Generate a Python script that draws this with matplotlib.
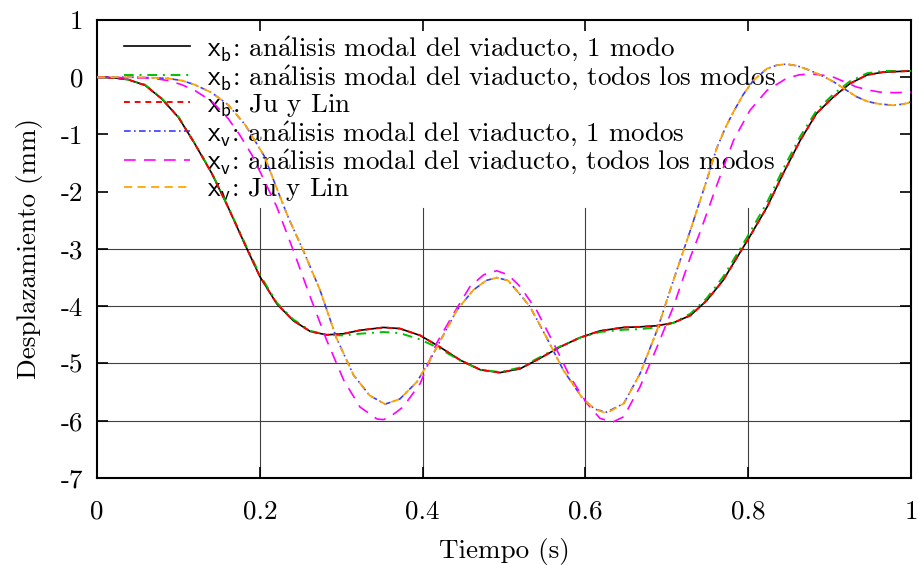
import matplotlib
matplotlib.use("Agg")
import matplotlib.pyplot as plt

plt.rcParams['font.family'] = ['cmr10', 'DejaVu Serif']
plt.rcParams['mathtext.fontset'] = 'cm'
plt.rcParams['axes.unicode_minus'] = False
plt.rcParams['font.size'] = 19.5

# Data (tiempo in s, desplazamiento in mm)
t_b1 = [0.00, 0.02, 0.038, 0.059, 0.079, 0.100, 0.120, 0.141, 0.161, 0.182,
        0.200, 0.221, 0.241, 0.262, 0.282, 0.303, 0.323, 0.352, 0.372, 0.397,
        0.421, 0.446, 0.471, 0.495, 0.520, 0.544, 0.569, 0.593, 0.618, 0.647,
        0.667, 0.688, 0.708, 0.729, 0.749, 0.769, 0.790, 0.802, 0.823, 0.843,
        0.864, 0.884, 0.905, 0.925, 0.946, 0.966, 0.983, 1.00]
d_b1 = [0.00, -0.01, -0.04, -0.14, -0.37, -0.70, -1.16, -1.68, -2.27, -2.93,
        -3.48, -3.96, -4.25, -4.44, -4.50, -4.48, -4.42, -4.37, -4.39, -4.51,
        -4.71, -4.94, -5.11, -5.16, -5.09, -4.91, -4.71, -4.55, -4.43, -4.37,
        -4.36, -4.34, -4.29, -4.16, -3.90, -3.55, -3.06, -2.78, -2.27, -1.68,
        -1.10, -0.63, -0.34, -0.11, 0.04, 0.09, 0.10, 0.11]

# xb, todos los modos (same time grid)
d_bt = [0.00, -0.01, -0.04, -0.13, -0.36, -0.69, -1.15, -1.67, -2.26, -2.91,
        -3.45, -3.94, -4.23, -4.43, -4.50, -4.51, -4.48, -4.45, -4.47, -4.58,
        -4.74, -4.95, -5.11, -5.15, -5.07, -4.89, -4.70, -4.55, -4.45, -4.41,
        -4.40, -4.37, -4.29, -4.13, -3.86, -3.49, -3.00, -2.71, -2.19, -1.60,
        -1.03, -0.58, -0.29, -0.07, 0.07, 0.11, 0.11, 0.11]

# xb, Ju y Lin
d_bjl = [0.00, -0.01, -0.04, -0.14, -0.37, -0.70, -1.16, -1.68, -2.27, -2.93,
         -3.48, -3.96, -4.25, -4.44, -4.50, -4.48, -4.42, -4.37, -4.39, -4.51,
         -4.71, -4.94, -5.11, -5.16, -5.09, -4.91, -4.71, -4.55, -4.43, -4.37,
         -4.36, -4.34, -4.29, -4.16, -3.90, -3.55, -3.06, -2.78, -2.27, -1.68,
         -1.10, -0.63, -0.34, -0.11, 0.04, 0.09, 0.10, 0.11]

t_v = [0.00, 0.05, 0.087, 0.105, 0.120, 0.141, 0.161, 0.182, 0.206, 0.221,
       0.235, 0.255, 0.274, 0.294, 0.315, 0.335, 0.354, 0.372, 0.393, 0.409,
       0.421, 0.442, 0.462, 0.478, 0.491, 0.505, 0.520, 0.532, 0.552, 0.573,
       0.597, 0.612, 0.626, 0.647, 0.667, 0.688, 0.708, 0.729, 0.749, 0.761,
       0.772, 0.782, 0.794, 0.806, 0.823, 0.835, 0.847, 0.860, 0.876, 0.890,
       0.905, 0.920, 0.933, 0.946, 0.958, 0.978, 0.990, 1.00]
d_v1 = [0.00, 0.00, -0.02, -0.06, -0.13, -0.27, -0.48, -0.83, -1.39, -1.95,
        -2.45, -3.08, -3.72, -4.55, -5.20, -5.56, -5.71, -5.62, -5.32, -4.94,
        -4.62, -4.07, -3.72, -3.55, -3.50, -3.55, -3.80, -4.01, -4.54, -5.12,
        -5.62, -5.80, -5.85, -5.70, -5.18, -4.42, -3.55, -2.67, -1.80, -1.25,
        -0.88, -0.60, -0.30, -0.06, 0.15, 0.21, 0.23, 0.20, 0.12, 0.03,
        -0.08, -0.22, -0.34, -0.42, -0.46, -0.49, -0.47, -0.43]
d_vjl = [0.00, 0.00, -0.02, -0.06, -0.13, -0.27, -0.48, -0.83, -1.39, -1.95,
         -2.45, -3.08, -3.72, -4.55, -5.20, -5.56, -5.71, -5.62, -5.32, -4.94,
         -4.62, -4.07, -3.72, -3.55, -3.50, -3.55, -3.80, -4.01, -4.54, -5.12,
         -5.62, -5.80, -5.87, -5.70, -5.18, -4.42, -3.55, -2.67, -1.80, -1.25,
         -0.88, -0.60, -0.30, -0.06, 0.15, 0.21, 0.23, 0.20, 0.12, 0.03,
         -0.08, -0.22, -0.34, -0.42, -0.46, -0.49, -0.47, -0.44]

t_vt = [0.00, 0.05, 0.070, 0.088, 0.104, 0.120, 0.141, 0.161, 0.175, 0.190,
        0.202, 0.221, 0.241, 0.262, 0.282, 0.303, 0.323, 0.344, 0.352, 0.360,
        0.376, 0.397, 0.417, 0.438, 0.458, 0.475, 0.491, 0.505, 0.520, 0.540,
        0.561, 0.581, 0.602, 0.618, 0.634, 0.647, 0.667, 0.688, 0.708, 0.729,
        0.741, 0.749, 0.761, 0.782, 0.802, 0.823, 0.847, 0.862, 0.876, 0.890,
        0.905, 0.920, 0.933, 0.950, 0.962, 0.980, 1.00]
d_vt = [0.00, -0.01, -0.02, -0.06, -0.13, -0.23, -0.42, -0.72, -1.00, -1.35,
        -1.70, -2.27, -3.02, -3.84, -4.59, -5.29, -5.76, -5.97, -5.98, -5.93,
        -5.76, -5.35, -4.65, -4.13, -3.66, -3.45, -3.38, -3.45, -3.66, -4.07,
        -4.65, -5.23, -5.70, -5.96, -6.02, -5.93, -5.41, -4.71, -4.01, -3.14,
        -2.70, -2.38, -1.90, -1.10, -0.58, -0.23, -0.02, 0.04, 0.06, 0.04,
        0.00, -0.09, -0.17, -0.23, -0.26, -0.27, -0.26]

labels = [r'$\mathsf{x_b}$: an$\acute{\mathrm{a}}$lisis modal del viaducto, 1 modo',
          r'$\mathsf{x_b}$: an$\acute{\mathrm{a}}$lisis modal del viaducto, todos los modos',
          r'$\mathsf{x_b}$: Ju y Lin',
          r'$\mathsf{x_v}$: an$\acute{\mathrm{a}}$lisis modal del viaducto, 1 modos',
          r'$\mathsf{x_v}$: an$\acute{\mathrm{a}}$lisis modal del viaducto, todos los modos',
          r'$\mathsf{x_v}$: Ju y Lin']

xticks = [0, 0.2, 0.4, 0.6, 0.8, 1]
xtick_labels = ['0', '0.2', '0.4', '0.6', '0.8', '1']
yticks = [1, 0, -1, -2, -3, -4, -5, -6, -7]
ytick_labels = ['1', '0', '-1', '-2', '-3', '-4', '-5', '-6', '-7']
key_bottom = -2.29   # the opaque key hides the grid above this level

fig = plt.figure(figsize=(9.18, 5.65), dpi=100)
ax = fig.add_axes([0.1057, 0.154, 0.8867, 0.8106])

# grid, only below the key
for y in yticks[1:-1]:
    if y < key_bottom:
        ax.axhline(y, color='0.25', lw=0.8, zorder=1)
for x in xticks[1:-1]:
    ax.plot([x, x], [-7, key_bottom], color='0.25', lw=0.8, zorder=1)

ax.plot(t_b1, d_b1, color='black', lw=1.2, zorder=3, label=labels[0])
ax.plot(t_b1, d_bt, color='#00c000', lw=1.4, dashes=(5, 3, 1, 3), zorder=3, label=labels[1])
ax.plot(t_b1, d_bjl, color='#ff0000', lw=1.4, dashes=(3, 2.5), zorder=3, label=labels[2])
ax.plot(t_v, d_v1, color='#3b3bff', lw=1.2, dashes=(4, 2, 1, 2), zorder=3, label=labels[3])
ax.plot(t_vt, d_vt, color='#ff00ff', lw=1.2, dashes=(7, 5), zorder=3, label=labels[4])
ax.plot(t_v, d_vjl, color='#ffa500', lw=1.3, dashes=(4.5, 3), zorder=3, label=labels[5])

ax.set_xlim(0, 1)
ax.set_ylim(-7, 1)
ax.set_xticks(xticks)
ax.set_xticklabels(xtick_labels)
ax.set_yticks(yticks)
ax.set_yticklabels(ytick_labels)
ax.tick_params(direction='in', length=8, width=1.2, top=True, right=True)
ax.tick_params(axis='x', pad=16)
ax.tick_params(axis='y', pad=10)
for s in ax.spines.values():
    s.set_linewidth(1.5)

ax.set_xlabel('Tiempo (s)', labelpad=10)
ax.set_ylabel('Desplazamiento (mm)', labelpad=13)

leg = ax.legend(loc='upper left', bbox_to_anchor=(0.02, 0.993), frameon=False,
                handlelength=2.45, handletextpad=0.62, labelspacing=0.0,
                borderaxespad=0.0)
leg.set_zorder(2)

fig.savefig('out.png', dpi=100)
